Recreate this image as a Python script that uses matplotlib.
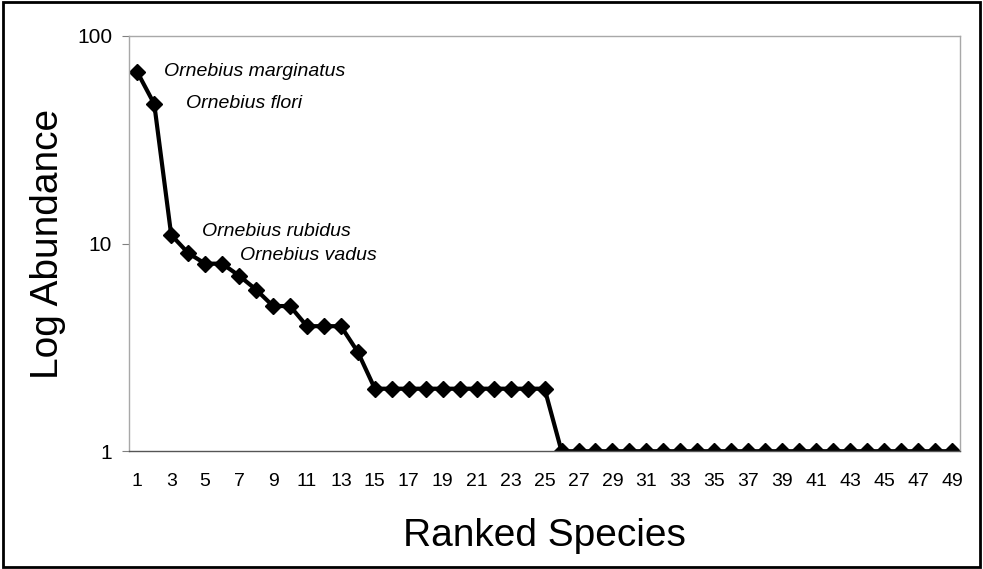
import numpy as np
import matplotlib
matplotlib.use('Agg')
import matplotlib.pyplot as plt
from matplotlib.patches import Rectangle

ranks = np.arange(1, 50)
abundance = [67, 47, 11, 9, 8, 8, 7, 6, 5, 5, 4, 4, 4, 3] + [2] * 11 + [1] * 24
labelled = [(1, 'Ornebius marginatus'), (2, 'Ornebius flori'),
            (3, 'Ornebius rubidus'), (4, 'Ornebius vadus')]
label_offsets = [(27, 0), (32, 0), (31, 3), (52, -2)]

plt.rcParams['font.family'] = ['Liberation Sans', 'DejaVu Sans']

fig = plt.figure(figsize=(9.83, 5.69), dpi=100)
ax = fig.add_axes([0.131, 0.207, 0.846, 0.730])

ax.plot(ranks, abundance, 'k-', lw=3, marker='D', ms=8.5)
ax.set_yscale('log')
ax.set_ylim(1, 100)
ax.set_xlim(0.5, 49.5)
ax.set_yticks([1, 10, 100])
ax.set_yticklabels(['1', '10', '100'])
ax.minorticks_off()
ax.set_xticks(ranks[::2])
ax.set_xticklabels([str(r) for r in ranks[::2]])
ax.tick_params(axis='x', length=0, pad=16, labelsize=14)
ax.tick_params(axis='y', length=5, width=0.8, color='gray', pad=7, labelsize=15)

for s in ['top', 'right', 'left']:
    ax.spines[s].set_color('#a8a8a8')
    ax.spines[s].set_linewidth(1)
ax.spines['bottom'].set_color('#555555')
ax.spines['bottom'].set_linewidth(1)

for (r, name), (dx, dy) in zip(labelled, label_offsets):
    ax.annotate(name, xy=(r, abundance[r - 1]), xytext=(dx, dy),
                textcoords='offset pixels', fontsize=14, style='italic',
                va='center', ha='left')

ax.set_xlabel('Ranked Species', fontsize=28, labelpad=20)
ax.set_ylabel('Log Abundance', fontsize=28, labelpad=8)

fig.patches.append(Rectangle((0.003, 0.004), 0.994, 0.992, transform=fig.transFigure,
                             fill=False, edgecolor='black', lw=2))

plt.savefig('out.png', dpi=100)
